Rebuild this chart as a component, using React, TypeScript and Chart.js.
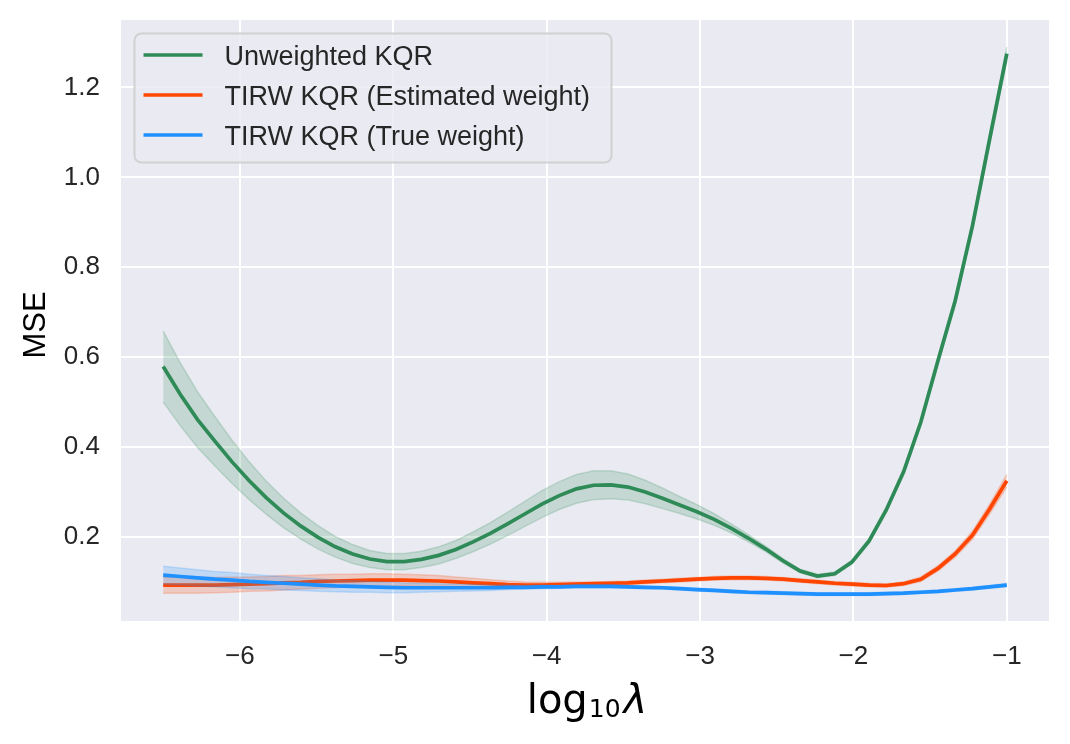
import React, { useEffect, useRef } from 'react';
import { Chart, registerables } from 'chart.js';

Chart.register(...registerables);

// log10(lambda) grid (50 points from -6.5 to -1)
const lambdaGrid = [
  -6.5, -6.388, -6.276, -6.163, -6.051, -5.939, -5.827, -5.714, -5.602, -5.49,
  -5.378, -5.265, -5.153, -5.041, -4.929, -4.816, -4.704, -4.592, -4.48, -4.367,
  -4.255, -4.143, -4.031, -3.918, -3.806, -3.694, -3.582, -3.469, -3.357, -3.245,
  -3.133, -3.02, -2.908, -2.796, -2.684, -2.571, -2.459, -2.347, -2.235, -2.122,
  -2.01, -1.898, -1.786, -1.673, -1.561, -1.449, -1.337, -1.224, -1.112, -1.0,
];

const unweighted = [
  0.579, 0.517, 0.461, 0.413, 0.367, 0.325, 0.287, 0.253, 0.224, 0.199,
  0.178, 0.162, 0.151, 0.145, 0.145, 0.15, 0.159, 0.172, 0.189, 0.208,
  0.229, 0.251, 0.273, 0.292, 0.307, 0.315, 0.316, 0.311, 0.3, 0.286,
  0.271, 0.256, 0.239, 0.219, 0.197, 0.173, 0.147, 0.124, 0.113, 0.118,
  0.144, 0.191, 0.26, 0.345, 0.455, 0.592, 0.725, 0.892, 1.085, 1.275,
];
const unweightedCI = [
  0.079, 0.07, 0.062, 0.055, 0.048, 0.042, 0.037, 0.033, 0.029, 0.026,
  0.023, 0.021, 0.019, 0.018, 0.018, 0.018, 0.019, 0.02, 0.022, 0.024,
  0.026, 0.028, 0.03, 0.031, 0.032, 0.032, 0.031, 0.029, 0.026, 0.023,
  0.019, 0.016, 0.013, 0.01, 0.008, 0.006, 0.005, 0.004, 0.004, 0.004,
  0.004, 0.005, 0.005, 0.006, 0.007, 0.008, 0.009, 0.01, 0.012, 0.015,
];

const tirwEstimated = [
  0.093, 0.093, 0.093, 0.093, 0.094, 0.095, 0.096, 0.098, 0.099, 0.101,
  0.102, 0.103, 0.104, 0.104, 0.104, 0.103, 0.102, 0.1, 0.098, 0.096,
  0.094, 0.093, 0.093, 0.094, 0.095, 0.096, 0.097, 0.098, 0.1, 0.102,
  0.104, 0.106, 0.108, 0.109, 0.109, 0.108, 0.106, 0.103, 0.1, 0.097,
  0.095, 0.093, 0.092, 0.096, 0.106, 0.13, 0.162, 0.204, 0.262, 0.325,
];
const tirwEstimatedCI = [
  0.018, 0.018, 0.018, 0.017, 0.017, 0.016, 0.016, 0.016, 0.015, 0.015,
  0.015, 0.014, 0.014, 0.014, 0.013, 0.013, 0.012, 0.011, 0.01, 0.009,
  0.008, 0.007, 0.006, 0.005, 0.005, 0.004, 0.004, 0.004, 0.004, 0.004,
  0.004, 0.004, 0.004, 0.004, 0.004, 0.004, 0.004, 0.004, 0.004, 0.004,
  0.004, 0.004, 0.004, 0.004, 0.005, 0.006, 0.007, 0.009, 0.011, 0.014,
];

const tirwTrue = [
  0.115, 0.112, 0.109, 0.106, 0.104, 0.101, 0.099, 0.097, 0.095, 0.093,
  0.091, 0.09, 0.089, 0.088, 0.087, 0.087, 0.087, 0.087, 0.087, 0.087,
  0.088, 0.088, 0.089, 0.089, 0.09, 0.09, 0.09, 0.089, 0.088, 0.087,
  0.085, 0.083, 0.081, 0.079, 0.077, 0.076, 0.075, 0.074, 0.073, 0.073,
  0.073, 0.073, 0.074, 0.075, 0.077, 0.079, 0.082, 0.085, 0.089, 0.093,
];
const tirwTrueCI = [
  0.02, 0.019, 0.018, 0.017, 0.017, 0.016, 0.015, 0.015, 0.014, 0.014,
  0.013, 0.013, 0.012, 0.012, 0.011, 0.01, 0.009, 0.008, 0.007, 0.006,
  0.005, 0.004, 0.004, 0.003, 0.003, 0.003, 0.003, 0.003, 0.003, 0.003,
  0.003, 0.003, 0.003, 0.003, 0.003, 0.003, 0.003, 0.003, 0.003, 0.003,
  0.003, 0.003, 0.003, 0.003, 0.003, 0.003, 0.003, 0.003, 0.003, 0.004,
];

const seriesNames = ['Unweighted KQR', 'TIRW KQR (Estimated weight)', 'TIRW KQR (True weight)'];
const seriesColors = [
  [46, 139, 87],
  [255, 69, 0],
  [30, 144, 255],
];

const xTicks = [-6, -5, -4, -3, -2, -1];
const yTicks = [0.2, 0.4, 0.6, 0.8, 1.0, 1.2];
const xTitleMain = 'log';
const xTitleSub = '10';
const xTitleSymbol = 'λ';
const yTitle = 'MSE';

const SANS = '"Liberation Sans", Arial, sans-serif';
const MATH = '"DejaVu Sans", sans-serif';
const TEXT = '#262626';

const rgba = (c: number[], a: number) => `rgba(${c[0]},${c[1]},${c[2]},${a})`;

export default function App() {
  const ref = useRef<HTMLCanvasElement>(null);

  useEffect(() => {
    const canvas = ref.current;
    if (!canvas) return;

    const series = [
      { mean: unweighted, ci: unweightedCI },
      { mean: tirwEstimated, ci: tirwEstimatedCI },
      { mean: tirwTrue, ci: tirwTrueCI },
    ];

    const datasets: any[] = [];
    series.forEach((s, k) => {
      const c = seriesColors[k];
      const base = (3 - k) * 3;
      datasets.push({
        label: seriesNames[k] + ' lower',
        data: lambdaGrid.map((x, i) => ({ x, y: s.mean[i] - s.ci[i] })),
        borderColor: rgba(c, 0.2),
        borderWidth: 1.5,
        pointRadius: 0,
        fill: false,
        order: base,
      });
      datasets.push({
        label: seriesNames[k] + ' upper',
        data: lambdaGrid.map((x, i) => ({ x, y: s.mean[i] + s.ci[i] })),
        borderColor: rgba(c, 0.2),
        backgroundColor: rgba(c, 0.2),
        borderWidth: 1.5,
        pointRadius: 0,
        fill: '-1',
        order: base - 1,
      });
      datasets.push({
        label: seriesNames[k],
        data: lambdaGrid.map((x, i) => ({ x, y: s.mean[i] })),
        borderColor: rgba(c, 1),
        borderWidth: 3.7,
        pointRadius: 0,
        fill: false,
        tension: 0,
        order: base - 2,
      });
    });

    const decor = {
      id: 'decor',
      beforeDraw(chart: any) {
        const { ctx, chartArea: a } = chart;
        ctx.save();
        ctx.fillStyle = '#EAEAF2';
        ctx.fillRect(a.left, a.top, a.right - a.left, a.bottom - a.top);
        ctx.restore();
      },
      afterDraw(chart: any) {
        const { ctx, chartArea: a } = chart;
        ctx.save();
        // Legend
        const bx = a.left + 13.5;
        const by = a.top + 13.5;
        const bw = 477;
        const bh = 129;
        ctx.beginPath();
        ctx.roundRect(bx, by, bw, bh, 7);
        ctx.fillStyle = 'rgba(234,234,242,0.8)';
        ctx.fill();
        ctx.strokeStyle = 'rgba(204,204,204,0.85)';
        ctx.lineWidth = 2;
        ctx.stroke();
        ctx.font = `27px ${SANS}`;
        ctx.textAlign = 'left';
        ctx.textBaseline = 'alphabetic';
        seriesNames.forEach((name, k) => {
          const ry = by + 21.5 + k * 40;
          ctx.beginPath();
          ctx.moveTo(bx + 9, ry);
          ctx.lineTo(bx + 68, ry);
          ctx.strokeStyle = rgba(seriesColors[k], 1);
          ctx.lineWidth = 3.7;
          ctx.lineCap = 'butt';
          ctx.stroke();
          ctx.fillStyle = TEXT;
          ctx.fillText(name, bx + 90, ry + 9.7);
        });

        // X title: log_10 λ
        ctx.fillStyle = '#000';
        ctx.font = `40px ${MATH}`;
        const w1 = ctx.measureText(xTitleMain).width;
        ctx.font = `25px ${MATH}`;
        const w2 = ctx.measureText(xTitleSub).width;
        ctx.font = `italic 40px ${MATH}`;
        const w3 = ctx.measureText(xTitleSymbol).width;
        const cx = (a.left + a.right) / 2 + 2;
        let x0 = cx - (w1 + w2 + w3 + 4) / 2;
        const base = a.bottom + 92;
        ctx.font = `40px ${MATH}`;
        ctx.fillText(xTitleMain, x0, base);
        x0 += w1 + 1;
        ctx.font = `25px ${MATH}`;
        ctx.fillText(xTitleSub, x0, base + 4);
        x0 += w2 + 3;
        ctx.font = `italic 40px ${MATH}`;
        ctx.fillText(xTitleSymbol, x0, base);

        // Y title
        ctx.font = `31px ${SANS}`;
        ctx.textAlign = 'center';
        ctx.translate(45, 325);
        ctx.rotate(-Math.PI / 2);
        ctx.fillText(yTitle, 0, 0);
        ctx.restore();
      },
    };

    const tickFont = { family: SANS, size: 26 };

    const chart = new Chart(canvas, {
      type: 'line',
      data: { datasets },
      options: {
        animation: false,
        responsive: false,
        events: [],
        layout: { padding: { left: 0, right: 21, top: 20, bottom: 0 } },
        plugins: {
          legend: { display: false },
          tooltip: { enabled: false },
          title: { display: false },
        },
        scales: {
          x: {
            type: 'linear',
            min: -6.775,
            max: -0.725,
            afterBuildTicks: (s: any) => {
              s.ticks = xTicks.map((v) => ({ value: v }));
            },
            afterFit: (s: any) => {
              s.height = 123;
              s.paddingLeft = 0;
              s.paddingRight = 0;
            },
            grid: { color: '#ffffff', lineWidth: 2, drawTicks: false },
            border: { display: false },
            ticks: {
              padding: 20,
              font: tickFont,
              color: TEXT,
              maxRotation: 0,
              autoSkip: false,
              callback: (v: any) => (v < 0 ? '\u2212' + Math.abs(v) : String(v)),
            },
          },
          y: {
            type: 'linear',
            min: 0.013,
            max: 1.35,
            afterBuildTicks: (s: any) => {
              s.ticks = yTicks.map((v) => ({ value: v }));
            },
            afterFit: (s: any) => {
              s.width = 121;
              s.paddingTop = 0;
              s.paddingBottom = 0;
            },
            grid: { color: '#ffffff', lineWidth: 2, drawTicks: false },
            border: { display: false },
            ticks: {
              padding: 21,
              font: tickFont,
              color: TEXT,
              autoSkip: false,
              callback: (v: any) => Number(v).toFixed(1),
            },
          },
        },
      },
      plugins: [decor],
    } as any);

    return () => chart.destroy();
  }, []);

  return (
    <div style={{ position: 'absolute', left: 0, top: 0, width: 1070, height: 744, background: '#fff' }}>
      <canvas ref={ref} width={1070} height={744} style={{ width: 1070, height: 744, display: 'block' }} />
    </div>
  );
}
